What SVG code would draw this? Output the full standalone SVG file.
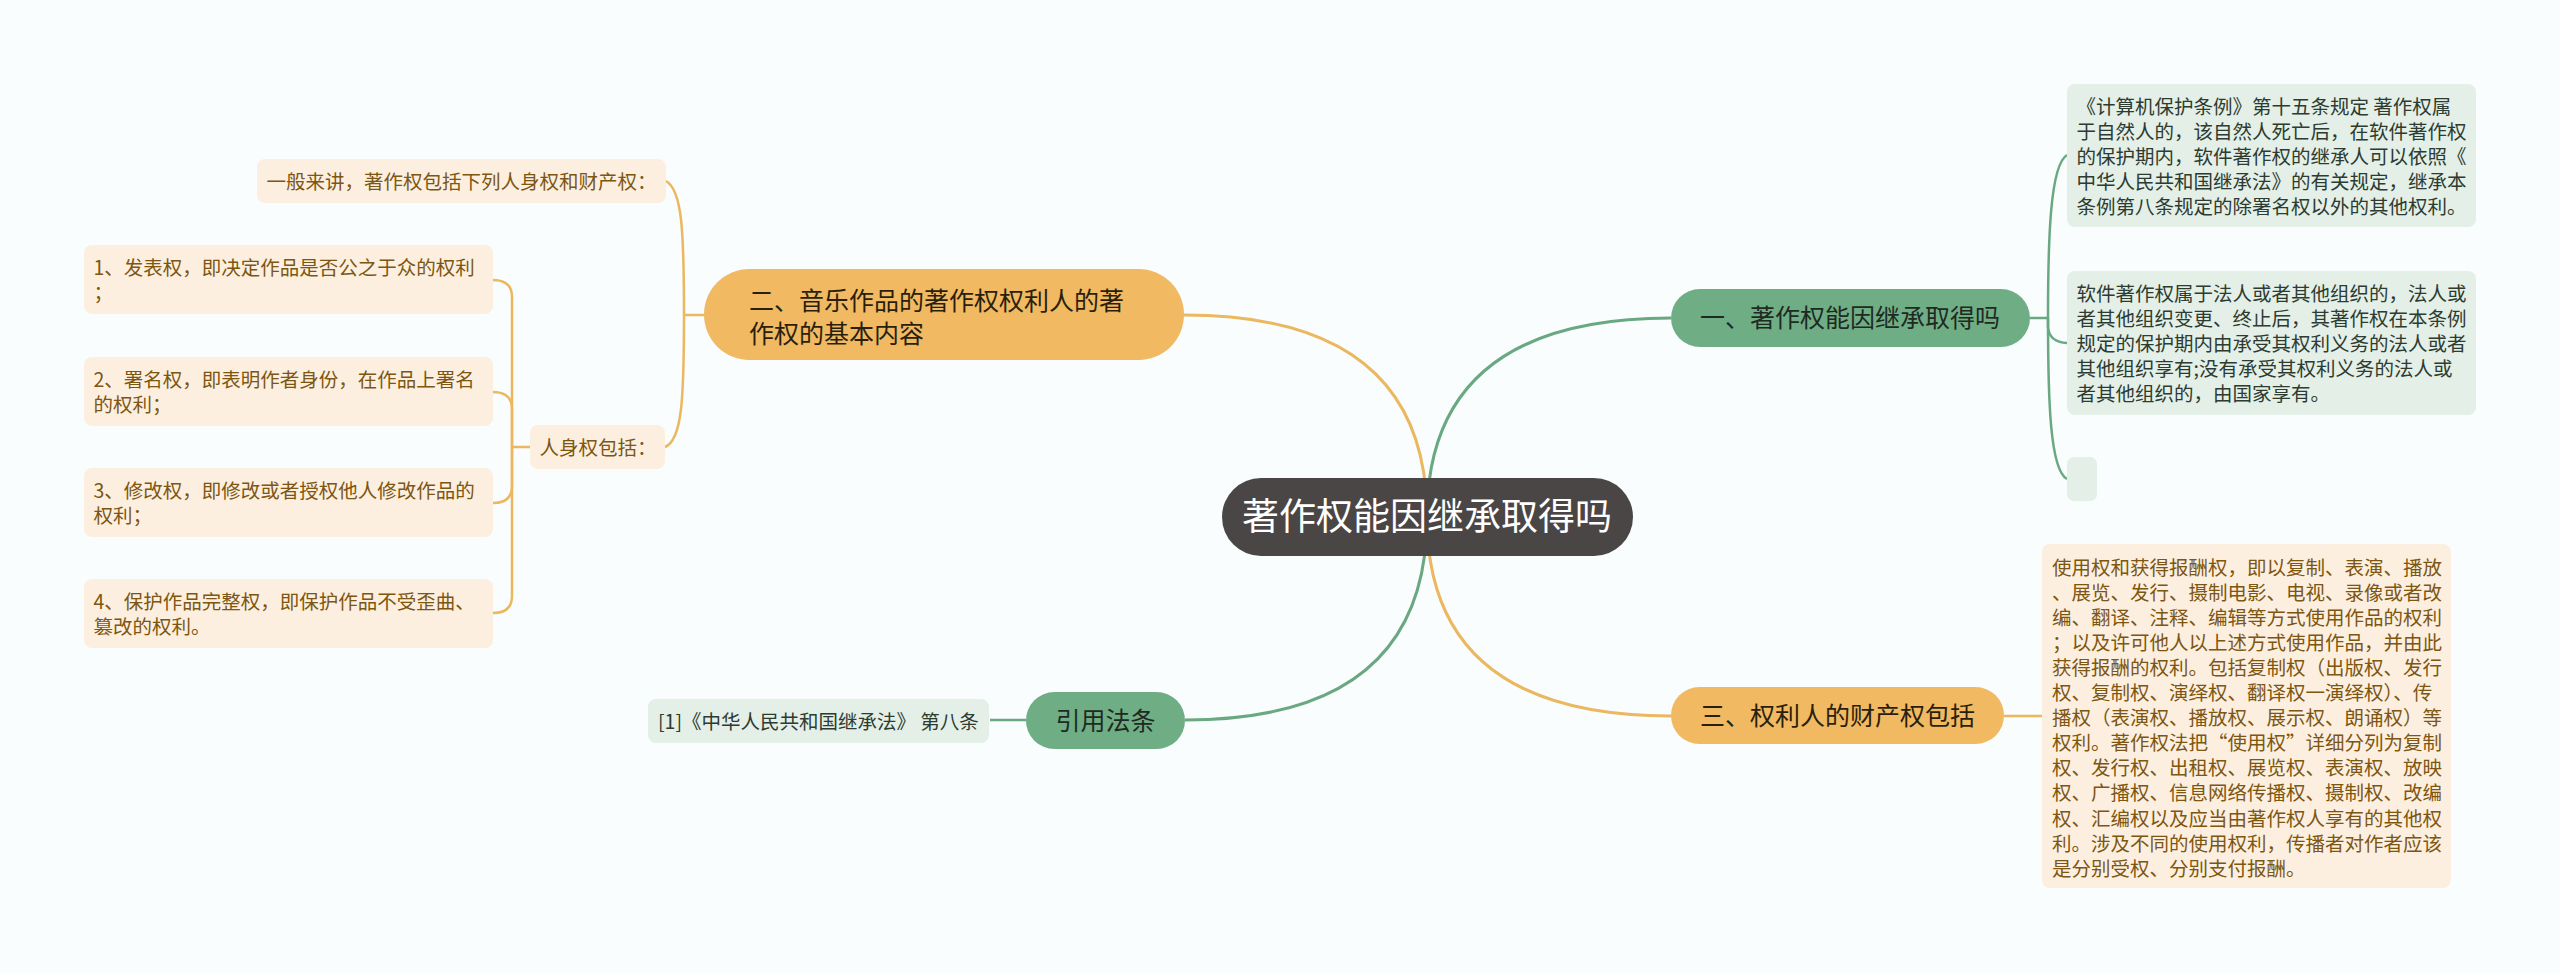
<svg xmlns="http://www.w3.org/2000/svg" width="2560" height="973" viewBox="0 0 2560 973">
<style>
text{font-family:"Noto Sans CJK SC","Noto Sans",sans-serif;}
.lg{fill:none;stroke:#6aa882;stroke-width:3;}
.lo{fill:none;stroke:#ebb75f;stroke-width:3;}
.lgs{fill:none;stroke:#6aa882;stroke-width:2.5;}
.los{fill:none;stroke:#ebb75f;stroke-width:2.5;}
.root{fill:#4b4646;}
.gn{fill:#6fae85;}
.on{fill:#f0b962;}
.gl{fill:#e3efe7;}
.ol{fill:#fcefdf;}
.tr{fill:#ffffff;font-size:37px;}
.tm{font-size:25px;fill:#1f2a22;}
.tmo{font-size:25px;fill:#2a1f0c;}
.tgl{font-size:19.5px;fill:#2d3b31;}
.tol{font-size:19.5px;fill:#7d5611;}
</style>
<rect x="0" y="0" width="2560" height="973" fill="#f9fdfd"/>
<g id="connectors">
<path class="lo" d="M1427 517 Q1427 315 1184 315"/>
<path class="lg" d="M1427 517 Q1427 318 1671 318"/>
<path class="lo" d="M1427 517 Q1427 716 1671 716"/>
<path class="lg" d="M1427 517 Q1427 720 1185 720"/>
<path class="lgs" d="M2030 318 H2048"/>
<path class="lgs" d="M2048 318 C2048 240 2050 165 2067 155"/>
<path class="lgs" d="M2048 318 V327 Q2049 342 2067 343"/>
<path class="lgs" d="M2048 318 C2048 400 2050 470 2067 479"/>
<path class="los" d="M2004 716 H2042"/>
<path class="lgs" d="M1026 720 H990"/>
<path class="los" d="M704 315 H684"/>
<path class="los" d="M684 315 C684 230 682 190 666 181"/>
<path class="los" d="M684 315 C684 400 682 440 665 447"/>
<path class="los" d="M530 447 H512"/>
<path class="los" d="M512 447 V297 Q512 280 493 280"/>
<path class="los" d="M512 447 V409 Q512 392 493 392"/>
<path class="los" d="M512 447 V486 Q512 503 493 503"/>
<path class="los" d="M512 447 V596 Q512 613 493 613"/>
</g>
<g id="root">
<rect class="root" x="1222" y="478" width="411" height="78" rx="39"/>
<text class="tr" x="1427" y="530" text-anchor="middle">著作权能因继承取得吗</text>
</g>
<g id="n1">
<rect class="gn" x="1671" y="289" width="359" height="58" rx="29"/>
<text class="tm" x="1850" y="327" text-anchor="middle">一、著作权能因继承取得吗</text>
</g>
<g id="n1a">
<rect class="gl" x="2067" y="84" width="409" height="143" rx="8"/>
<text class="tgl" x="2076.5"><tspan x="2076.5" y="113.5">《计算机保护条例》第十五条规定 著作权属</tspan><tspan x="2076.5" y="138.5">于自然人的，该自然人死亡后，在软件著作权</tspan><tspan x="2076.5" y="163.5">的保护期内，软件著作权的继承人可以依照《</tspan><tspan x="2076.5" y="188.5">中华人民共和国继承法》的有关规定，继承本</tspan><tspan x="2076.5" y="213.5">条例第八条规定的除署名权以外的其他权利。</tspan></text>
</g>
<g id="n1b">
<rect class="gl" x="2067" y="271" width="409" height="144" rx="8"/>
<text class="tgl"><tspan x="2076.5" y="300.5">软件著作权属于法人或者其他组织的，法人或</tspan><tspan x="2076.5" y="325.5">者其他组织变更、终止后，其著作权在本条例</tspan><tspan x="2076.5" y="350.5">规定的保护期内由承受其权利义务的法人或者</tspan><tspan x="2076.5" y="375.5">其他组织享有;没有承受其权利义务的法人或</tspan><tspan x="2076.5" y="400.5">者其他组织的，由国家享有。</tspan></text>
</g>
<g id="n1c">
<rect class="gl" x="2067" y="457" width="30" height="44" rx="7"/>
</g>
<g id="n3">
<rect class="on" x="1671" y="687" width="333" height="57" rx="28.5"/>
<text class="tmo" x="1837.5" y="725" text-anchor="middle">三、权利人的财产权包括</text>
</g>
<g id="n3a">
<rect class="ol" x="2042" y="544" width="409" height="344" rx="8"/>
<text class="tol"><tspan x="2052" y="574.5">使用权和获得报酬权，即以复制、表演、播放</tspan><tspan x="2052" y="599.6">、展览、发行、摄制电影、电视、录像或者改</tspan><tspan x="2052" y="624.7">编、翻译、注释、编辑等方式使用作品的权利</tspan><tspan x="2052" y="649.8">；以及许可他人以上述方式使用作品，并由此</tspan><tspan x="2052" y="674.9">获得报酬的权利。包括复制权（出版权、发行</tspan><tspan x="2052" y="700">权、复制权、演绎权、翻译权一演绎权）、传</tspan><tspan x="2052" y="725.1">播权（表演权、播放权、展示权、朗诵权）等</tspan><tspan x="2052" y="750.2">权利。著作权法把“使用权”详细分列为复制</tspan><tspan x="2052" y="775.3">权、发行权、出租权、展览权、表演权、放映</tspan><tspan x="2052" y="800.4">权、广播权、信息网络传播权、摄制权、改编</tspan><tspan x="2052" y="825.5">权、汇编权以及应当由著作权人享有的其他权</tspan><tspan x="2052" y="850.6">利。涉及不同的使用权利，传播者对作者应该</tspan><tspan x="2052" y="875.7">是分别受权、分别支付报酬。</tspan></text>
</g>
<g id="n4">
<rect class="gn" x="1026" y="692" width="159" height="57" rx="28.5"/>
<text class="tm" x="1105.5" y="729.5" text-anchor="middle">引用法条</text>
</g>
<g id="n4a">
<rect class="gl" x="648" y="699" width="341" height="44" rx="8"/>
<text class="tgl" x="658" y="728.5">[1]《中华人民共和国继承法》 第八条</text>
</g>
<g id="n2">
<rect class="on" x="704" y="269" width="480" height="91" rx="45.5"/>
<text class="tmo"><tspan x="749" y="310">二、音乐作品的著作权权利人的著</tspan><tspan x="749" y="343">作权的基本内容</tspan></text>
</g>
<g id="n2a">
<rect class="ol" x="257" y="159" width="409" height="44" rx="8"/>
<text class="tol" x="266.5" y="188.5">一般来讲，著作权包括下列人身权和财产权：</text>
</g>
<g id="n2b">
<rect class="ol" x="530" y="425" width="135" height="44" rx="8"/>
<text class="tol" x="539.5" y="454.5">人身权包括：</text>
</g>
<g id="n2b1">
<rect class="ol" x="84" y="245" width="409" height="69" rx="8"/>
<text class="tol"><tspan x="93.5" y="274.5">1、发表权，即决定作品是否公之于众的权利</tspan><tspan x="93.5" y="299.5">；</tspan></text>
</g>
<g id="n2b2">
<rect class="ol" x="84" y="357" width="409" height="69" rx="8"/>
<text class="tol"><tspan x="93.5" y="386.5">2、署名权，即表明作者身份，在作品上署名</tspan><tspan x="93.5" y="411.5">的权利；</tspan></text>
</g>
<g id="n2b3">
<rect class="ol" x="84" y="468" width="409" height="69" rx="8"/>
<text class="tol"><tspan x="93.5" y="497.5">3、修改权，即修改或者授权他人修改作品的</tspan><tspan x="93.5" y="522.5">权利；</tspan></text>
</g>
<g id="n2b4">
<rect class="ol" x="84" y="579" width="409" height="69" rx="8"/>
<text class="tol"><tspan x="93.5" y="608.5">4、保护作品完整权，即保护作品不受歪曲、</tspan><tspan x="93.5" y="633.5">篡改的权利。</tspan></text>
</g>
</svg>
